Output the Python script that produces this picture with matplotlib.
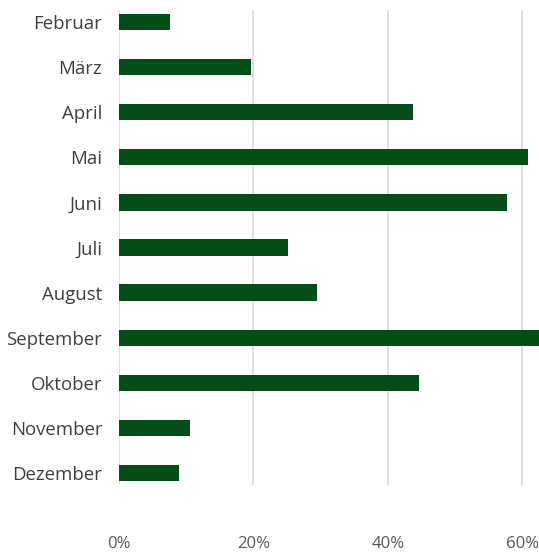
import matplotlib
matplotlib.use('Agg')
import matplotlib.pyplot as plt
import matplotlib.ticker as mticker

monate = ['Februar', 'März', 'April', 'Mai', 'Juni', 'Juli', 'August',
          'September', 'Oktober', 'November', 'Dezember']
anteil = [7.6, 19.6, 43.8, 60.9, 57.7, 25.1, 29.5, 63.5, 44.6, 10.6, 8.9]
x_ticks = [0, 20, 40, 60]

plt.rcParams['font.family'] = ['Open Sans', 'DejaVu Sans']

fig = plt.figure(figsize=(5.39, 5.55), dpi=100)
ax = fig.add_axes([119 / 539, 70 / 555, 420 / 539, 475 / 555])

pos = list(range(len(monate)))
ax.barh(pos, anteil, height=0.36, color='#034d17', zorder=3)

ax.set_ylim(len(monate) - 1 + 0.27, -0.27)
ax.set_xlim(0, 62.5)
ax.set_yticks(pos)
ax.set_yticklabels(monate, fontsize=13.4, color='#3f3f3f')
ax.set_xticks(x_ticks)
ax.xaxis.set_major_formatter(mticker.FuncFormatter(lambda v, p: f'{v:.0f}%'))
ax.tick_params(axis='x', labelsize=12, labelcolor='#595959', length=0, pad=37)
ax.tick_params(axis='y', length=0, pad=12)

ax.grid(axis='x', color='#d9d9d9', linewidth=1.2, zorder=0)
for s in ax.spines.values():
    s.set_visible(False)

fig.savefig('out.png', dpi=100)
